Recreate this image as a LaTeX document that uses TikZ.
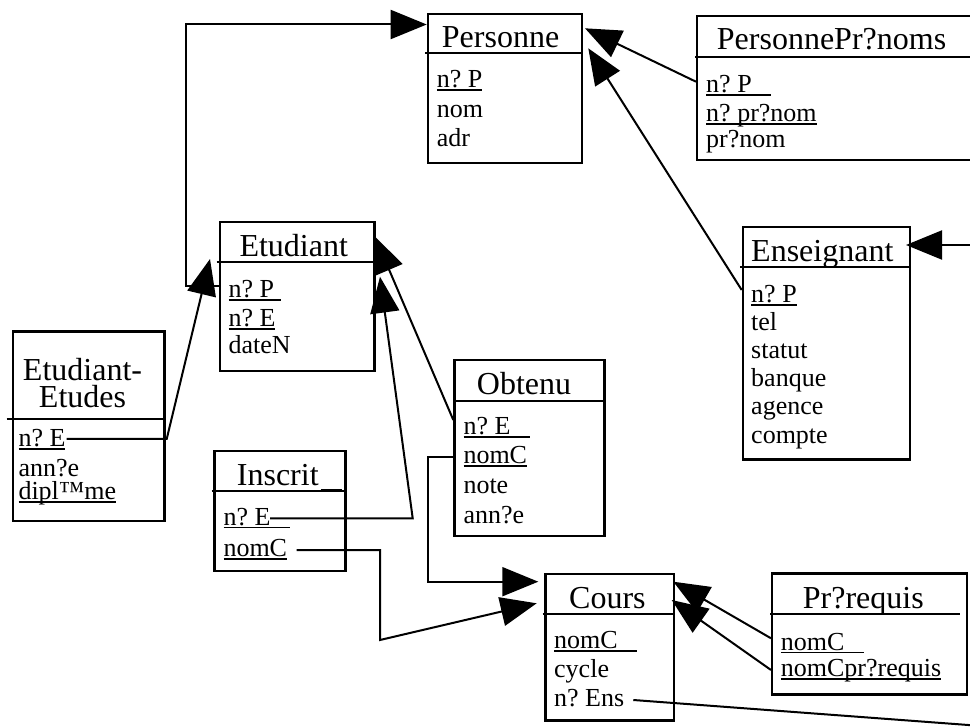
\documentclass[tikz,border=0pt]{standalone}
\usepackage{fontspec}
\setmainfont{Liberation Serif}
\usetikzlibrary{arrows.meta}
\newsavebox{\myulbox}
\newcommand{\myul}[1]{\sbox{\myulbox}{#1}\rlap{\rule[-3.3pt]{\wd\myulbox}{1.8pt}}\usebox{\myulbox}}
\begin{document}
\begin{tikzpicture}[x=1pt,y=-1pt,
  box/.style={draw, line width=2.2pt, inner sep=0pt, anchor=north west},
  sepline/.style={line width=2.2pt},
  ttl/.style={inner sep=0pt, anchor=base west, font=\fontsize{32}{36}\selectfont},
  att/.style={inner sep=0pt, anchor=base west, font=\fontsize{26}{28}\selectfont},
  conn/.style={line width=2pt},
  arr/.style={conn, -{Triangle[length=36pt,width=29pt]}},
]
\useasboundingbox (0,0) rectangle (970,727);

% Personne
\node[box, minimum width=154.3pt, minimum height=149.6pt] (personne) at (426.7,12.7) {};
\draw[sepline] (425,53.3) -- (581,53.3);
\node[ttl] (personneT) at (441.7,48) {Personne};
\node[att] (personneA1) at (436.7,88) {\myul{n?~P}};
\node[att] (personneA2) at (436.7,117.5) {nom};
\node[att] (personneA3) at (436.7,146.5) {adr};

% PersonnePrenoms
\node[box, minimum width=290pt, minimum height=144.3pt] (perspr) at (696,15) {};
\draw[sepline] (695,56.7) -- (975,56.7);
\node[ttl] (persprT) at (716.7,50) {PersonnePr?noms};
\node[att] (persprA1) at (706,93) {\myul{n?~P~~~}};
\node[att] (persprA2) at (706,121.7) {\myul{n?~pr?nom}};
\node[att] (persprA3) at (706,148) {pr?nom};

% Etudiant
\node[box, minimum width=154.3pt, minimum height=149pt] (etudiant) at (219,221) {};
\draw[sepline] (216.7,261.7) -- (373.3,261.7);
\node[ttl] (etudiantT) at (239.3,256.7) {Etudiant};
\node[att] (etudiantA1) at (228.3,297.3) {\myul{n?~P~}};
\node[att] (etudiantA2) at (228.3,326.7) {\myul{n?~E}};
\node[att] (etudiantA3) at (228.3,354) {dateN};

% Etudiant-Etudes
\node[box, minimum width=151.6pt, minimum height=189.5pt] (etudetudes) at (11.7,330.5) {};
\draw[sepline] (6.7,419) -- (163.3,419);
\node[ttl, anchor=base, font=\fontsize{32}{26.6}\selectfont] (etudetudesT) at (82.5,380.7)
  {\begin{tabular}[t]{@{}c@{}}Etudiant-\\\smash{Etudes}\end{tabular}};
\node[att] (etudetudesA1) at (18.3,446.7) {\myul{n?~E}};
\node[att, font=\fontsize{26}{22.8}\selectfont] (etudetudesA2) at (18.3,476.7)
  {\begin{tabular}[t]{@{}l@{}}ann?e\\\smash{\myul{dipl™me}}\end{tabular}};

% Inscrit
\node[box, minimum width=131pt, minimum height=120pt] (inscrit) at (213.3,450) {};
\draw[sepline] (211.7,491) -- (344.3,491);
\node[ttl] (inscritT) at (236.7,485) {Inscrit\hspace{2pt}\rule[-5.5pt]{21pt}{1.8pt}};
\node[att] (inscritA1) at (223.3,525) {\myul{n?~E~~~}};
\node[att] (inscritA2) at (223.3,556.7) {\myul{nomC}};

% Obtenu
\node[box, minimum width=150pt, minimum height=175.7pt] (obtenu) at (453.3,359.3) {};
\draw[sepline] (453.3,401) -- (603.3,401);
\node[ttl] (obtenuT) at (476.7,394.3) {Obtenu};
\node[att] (obtenuA1) at (463.3,434.3) {\myul{n?~E~~~}};
\node[att] (obtenuA2) at (463.3,463.3) {\myul{nomC}};
\node[att] (obtenuA3) at (463.3,493.3) {note};
\node[att] (obtenuA4) at (463.3,523.3) {ann?e};

% Enseignant
\node[box, minimum width=167.3pt, minimum height=232.3pt] (enseignant) at (741.7,226) {};
\draw[sepline] (740,267.3) -- (909,267.3);
\node[ttl] (enseignantT) at (751,261.7) {Enseignant};
\node[att] (enseignantA1) at (751,303) {\myul{n?~P}};
\node[att] (enseignantA2) at (751,331) {tel};
\node[att] (enseignantA3) at (751,359) {statut};
\node[att] (enseignantA4) at (751,387) {banque};
\node[att] (enseignantA5) at (751,415) {agence};
\node[att] (enseignantA6) at (751,443) {compte};

% Cours
\node[box, minimum width=128.4pt, minimum height=146.6pt] (cours) at (544.3,572.7) {};
\draw[sepline] (542.7,614) -- (672.7,614);
\node[ttl] (coursT) at (569,608.3) {Cours};
\node[att] (coursA1) at (554,648.3) {\myul{nomC~~~}};
\node[att] (coursA2) at (554,677) {cycle};
\node[att] (coursA3) at (554,706.7) {n?~Ens};

% Prerequis
\node[box, minimum width=195pt, minimum height=121pt] (prereq) at (771,572.3) {};
\draw[sepline] (770,614) -- (960,614);
\node[ttl] (prereqT) at (802.7,608.3) {Pr?requis};
\node[att] (prereqA1) at (780.7,650) {\myul{nomC~~~}};
\node[att] (prereqA2) at (780.7,676.7) {\myul{nomCpr?requis}};

% connector points
\coordinate (bendEP) at (186,286);
\coordinate (tipEE) at (210,259);
\coordinate (bendEE) at (166.7,439);
\coordinate (startEE) at (66.7,439);
\coordinate (tipPP) at (585,28.3);
\coordinate (tipEnsP) at (588.3,48.3);
\coordinate (offR) at (975,245);
\coordinate (tipEnsR) at (906,245);
\coordinate (tipOE) at (375,236.7);
\coordinate (startIE) at (270,518.3);
\coordinate (bendIE) at (412.7,518.3);
\coordinate (tipIE) at (380,276.7);
\coordinate (startIC) at (296.7,550);
\coordinate (bendIC1) at (380,550);
\coordinate (bendIC2) at (380,640);
\coordinate (tipIC) at (536.7,603.3);
\coordinate (bendOC1) at (428.3,456.7);
\coordinate (bendOC2) at (428.3,581.7);
\coordinate (tipOC) at (538.3,581.7);
\coordinate (tipPC1) at (673.3,581.7);
\coordinate (tipPC2) at (671.7,600);
\coordinate (startCE) at (633.3,700);
\coordinate (offCE) at (975,725.5);

% connectors
\draw[arr] (etudiant.west |- bendEP) -- (bendEP) |- (personne.west |- 0,24.5);
\draw[arr] (startEE) -- (bendEE) -- (tipEE);
\draw[arr] (perspr.west |- 0,81.7) -- (tipPP);
\draw[arr] (enseignant.west |- 0,290) -- (tipEnsP);
\draw[arr] (offR) -- (tipEnsR);
\draw[arr] (obtenu.west |- 0,420) -- (tipOE);
\draw[arr] (startIE) -- (bendIE) -- (tipIE);
\draw[arr] (startIC) -- (bendIC1) -- (bendIC2) -- (tipIC);
\draw[arr] (obtenu.west |- bendOC1) -- (bendOC1) -- (bendOC2) -- (tipOC);
\draw[arr] (prereq.west |- 0,638.3) -- (tipPC1);
\draw[arr] (prereq.west |- 0,670) -- (tipPC2);
\draw[conn] (startCE) -- (offCE);
\end{tikzpicture}
\end{document}
